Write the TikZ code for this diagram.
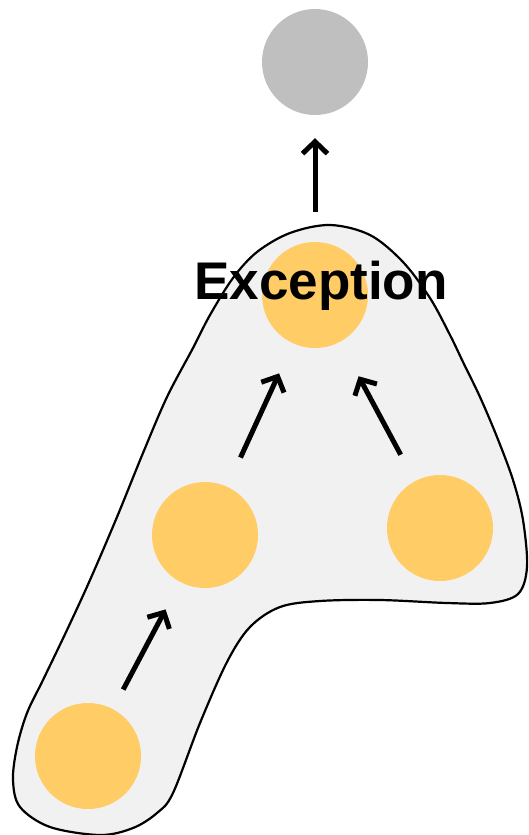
\documentclass[tikz,border=0pt]{standalone}
\usepackage{fontspec}
\setmainfont{Liberation Sans}
\usetikzlibrary{arrows.meta}
\definecolor{blobfill}{RGB}{241,241,241}
\definecolor{orangefill}{RGB}{255,204,102}
\definecolor{grayfill}{RGB}{191,191,191}
\begin{document}
\begin{tikzpicture}[x=1pt,y=-1pt,
  ball/.style={circle,minimum size=106pt,inner sep=0pt,draw=none},
  okball/.style={ball,fill=orangefill},
  outball/.style={ball,fill=grayfill},
  flow/.style={line width=5pt,-{Straight Barb[length=12pt,width=25pt,line width=5pt]}}]
\useasboundingbox (0,0) rectangle (528,835);
\draw[fill=blobfill,line width=2.2pt] plot[smooth cycle,tension=0.55] coordinates{
(330,225) (370,235) (403,262) (430,298) (450,335) (463,362) (480,397) (497,437)
(513,480) (523,520) (527,567) (518,594)
(490,603) (447,603) (380,600) (320,601) (280,607) (250,627) (227,662) (200,723)
(173,793) (157,813) (133,828) (100,835) (50,827) (20,807) (13,780) (17,747)
(27,713) (43,680) (67,630) (90,580) (117,517) (143,453) (167,397) (193,348)
(210,315) (233,278) (257,252) (290,233)};
\node[outball] (out) at (315,62) {};
\node[okball] (top) at (315,295) {};
\node[okball] (mid) at (205,535) {};
\node[okball] (right) at (440,528) {};
\node[okball] (bot) at (88,756) {};
\node[font=\bfseries\fontsize{53}{60}\selectfont] (exc) at (321,286) {Exception};
\draw[flow,shorten <=30pt,shorten >=23pt] (top) -- (out);
\draw[flow,shorten <=32pt,shorten >=33pt] (mid) -- (top);
\draw[flow,shorten <=30pt,shorten >=39pt] (right) -- (top);
\draw[flow,shorten <=22pt,shorten >=31pt] (bot) -- (mid);
\end{tikzpicture}
\end{document}
